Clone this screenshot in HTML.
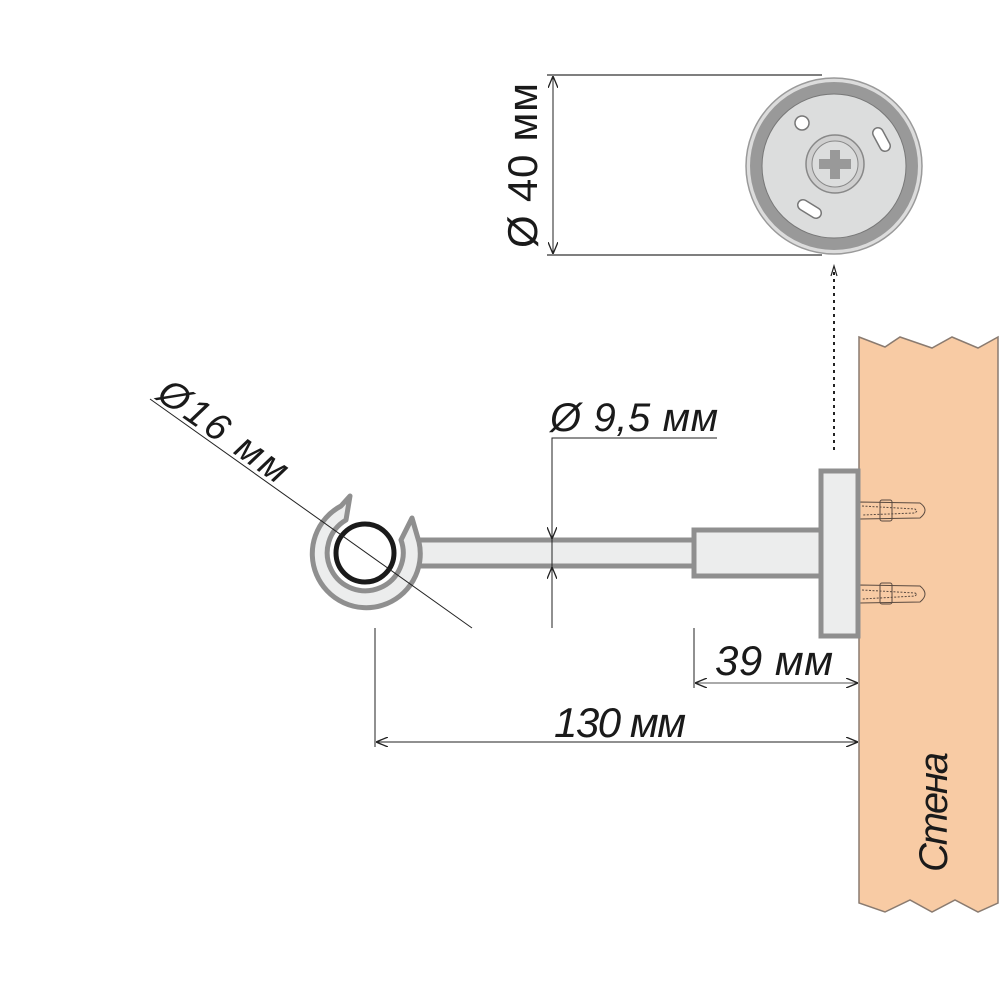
<!DOCTYPE html>
<html><head><meta charset="utf-8"><style>html,body{margin:0;padding:0;background:#fff}svg{display:block}</style></head>
<body>
<svg width="1000" height="1000" viewBox="0 0 1000 1000" xmlns="http://www.w3.org/2000/svg">
<defs>
<marker id="ar" viewBox="0 0 12 10" refX="12" refY="5" markerWidth="12" markerHeight="10" markerUnits="userSpaceOnUse" orient="auto-start-reverse">
<path d="M0,0 L12,5 L0,10" fill="none" stroke="#222" stroke-width="1.3"/>
</marker>
</defs>
<!-- wall -->
<path d="M859,337 L885,347 L900,337 L932,348 L952,337 L978,348 L998,337 L998,903 L978,912 L955,900 L932,912 L910,900 L885,912 L859,903 Z" fill="#f8cba4" stroke="#8a7b70" stroke-width="1.5"/>
<!-- anchors -->
<g fill="none" stroke="#5a4a40" stroke-width="1">
<path d="M860,502 L920,503 Q930,510 920,518 L860,519 Z"/>
<path d="M862,506 L915,509 L917,511 L915,513 L862,515" stroke-dasharray="2 1.5"/>
<rect x="880" y="500" width="12" height="21" rx="2"/>
<rect x="851" y="502" width="8" height="17" rx="3"/>
<path d="M860,585 L920,586 Q930,594 920,602 L860,603 Z"/>
<path d="M862,590 L915,593 L917,594 L915,596 L862,599" stroke-dasharray="2 1.5"/>
<rect x="880" y="583" width="12" height="21" rx="2"/>
<rect x="851" y="586" width="8" height="17" rx="3"/>
</g>
<!-- plate, collar, rod -->
<rect x="821" y="471" width="37" height="165" fill="#eceded" stroke="#8f8f8f" stroke-width="5"/>
<rect x="694" y="530" width="127" height="46" fill="#eceded" stroke="#8f8f8f" stroke-width="5"/>
<rect x="410" y="540" width="284" height="26" fill="#eceded" stroke="#8f8f8f" stroke-width="5"/>
<!-- hook -->
<path d="M350,496 L341,506 A54,54 0 1 0 419,542 L412,518 L401,540 A38,38 0 1 1 346,520 Z" fill="#eceded" stroke="#8f8f8f" stroke-width="5" stroke-linejoin="round"/>
<circle cx="365" cy="553" r="29" fill="none" stroke="#1a1a1a" stroke-width="5"/>
<!-- Ø16 line -->
<line x1="150" y1="399" x2="472" y2="628" stroke="#222" stroke-width="1"/>
<text transform="translate(155,398) rotate(35.3)" font-family="Liberation Sans, sans-serif" font-style="italic" font-size="38" fill="#1a1a1a" textLength="150">Ø16 мм</text>
<!-- Ø9,5 -->
<polyline points="717,438 552,438 552,628" fill="none" stroke="#222" stroke-width="1"/>
<line x1="552" y1="520" x2="552" y2="539" stroke="#222" marker-end="url(#ar)"/>
<line x1="552" y1="586" x2="552" y2="567" stroke="#222" marker-end="url(#ar)"/>
<text x="550" y="431" font-family="Liberation Sans, sans-serif" font-style="italic" font-size="40" fill="#1a1a1a" textLength="168">Ø 9,5 мм</text>
<!-- 39 -->
<line x1="694" y1="628" x2="694" y2="688" stroke="#222" stroke-width="1"/>
<line x1="695" y1="683" x2="858" y2="683" stroke="#555" stroke-width="1" marker-start="url(#ar)" marker-end="url(#ar)"/>
<text x="715" y="675" font-family="Liberation Sans, sans-serif" font-style="italic" font-size="42" fill="#1a1a1a" textLength="118">39 мм</text>
<!-- 130 -->
<line x1="375" y1="628" x2="375" y2="747" stroke="#222" stroke-width="1"/>
<line x1="376" y1="742" x2="858" y2="742" stroke="#222" stroke-width="1" marker-start="url(#ar)" marker-end="url(#ar)"/>
<text x="554" y="737" font-family="Liberation Sans, sans-serif" font-style="italic" font-size="42" fill="#1a1a1a" textLength="132">130 мм</text>
<!-- top view -->
<line x1="547" y1="75" x2="822" y2="75" stroke="#555" stroke-width="1.5"/>
<line x1="547" y1="255" x2="822" y2="255" stroke="#555" stroke-width="1.5"/>
<line x1="553" y1="76" x2="553" y2="254" stroke="#222" stroke-width="1" marker-start="url(#ar)" marker-end="url(#ar)"/>
<text transform="translate(537,248) rotate(-90)" font-family="Liberation Sans, sans-serif" font-size="42" fill="#1a1a1a" textLength="165">Ø 40 мм</text>
<circle cx="834" cy="166" r="88" fill="#dcdcdc" stroke="#9a9a9a" stroke-width="1.5"/>
<circle cx="834" cy="166" r="84" fill="#999"/>
<circle cx="834" cy="166" r="72" fill="#dcdddd" stroke="#777" stroke-width="1"/>
<circle cx="802" cy="123" r="7" fill="#fff" stroke="#777" stroke-width="1.5"/>
<line x1="878" y1="133" x2="885" y2="146" stroke="#777" stroke-width="12" stroke-linecap="round"/>
<line x1="878" y1="133" x2="885" y2="146" stroke="#fff" stroke-width="9" stroke-linecap="round"/>
<line x1="803" y1="205" x2="816" y2="213" stroke="#777" stroke-width="12" stroke-linecap="round"/>
<line x1="803" y1="205" x2="816" y2="213" stroke="#fff" stroke-width="9" stroke-linecap="round"/>
<circle cx="835" cy="164" r="29" fill="#cfcfcf" stroke="#888" stroke-width="1.5"/>
<circle cx="835" cy="164" r="23" fill="#dcdddd" stroke="#888" stroke-width="1"/>
<path d="M830,150 h10 v9 h11 v10 h-11 v10 h-10 v-10 h-11 v-10 h11 z" fill="#999"/>
<!-- dotted -->
<line x1="834" y1="450" x2="834" y2="272" stroke="#222" stroke-width="2" stroke-dasharray="3 4"/>
<path d="M831,276 L834,266 L837,276" fill="none" stroke="#222" stroke-width="1.2"/>
<!-- Стена -->
<text transform="translate(947,872) rotate(-90)" font-family="Liberation Sans, sans-serif" font-style="italic" font-size="40" fill="#1a1a1a" textLength="120" lengthAdjust="spacing">Стена</text>
</svg>
</body></html>
